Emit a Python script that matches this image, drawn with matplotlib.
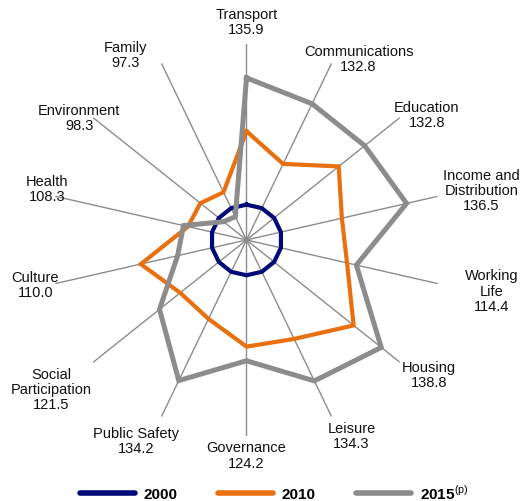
import numpy as np
import matplotlib
matplotlib.use("Agg")
import matplotlib.pyplot as plt
from matplotlib.lines import Line2D

plt.rcParams["font.family"] = ["Liberation Sans", "DejaVu Sans"]
plt.rcParams["mathtext.fontset"] = "custom"
plt.rcParams["mathtext.rm"] = "Liberation Sans"
plt.rcParams["mathtext.bf"] = "Liberation Sans:bold"

# categories clockwise from the top
categories = [
    "Transport", "Communications", "Education", "Income and\nDistribution",
    "Working\nLife", "Housing", "Leisure", "Governance", "Public Safety",
    "Social\nParticipation", "Culture", "Health", "Environment", "Family",
]
values_2000 = [100.0] * 14
values_2010 = [120.8, 113.9, 123.4, 117.7, 119.2, 128.8, 121.1,
               120.2, 114.8, 114.0, 120.7, 107.0, 106.7, 105.0]
# as drawn in the picture (Working Life is plotted higher than its label)
values_2015 = [135.9, 132.8, 132.8, 136.5, 121.9, 138.8, 134.3,
               124.2, 134.2, 121.5, 110.0, 108.3, 98.3, 97.3]
# values printed under the category names
label_values = [135.9, 132.8, 132.8, 136.5, 114.4, 138.8, 134.3,
                124.2, 134.2, 121.5, 110.0, 108.3, 98.3, 97.3]
series_names = ["2000", "2010", r"$\mathbf{2015}^{\mathrm{(p)}}$"]

# label offsets from spoke ends (pixels, y up)
label_dx = [0, 27, 27, 44, 54, 29, 20, 0, -25, -42, -20, -8, -14, -36]
label_dy = [22, 5, 3, 6, -7, -12, -19, -19, -24, -27, -1, 8, 0, 9]

colors = ["#000a78", "#e8700e", "#8c8c8c"]
widths = [3.0, 3.0, 3.6]

r_min, r_max = 90, 145.5
n = len(categories)
theta = np.arange(n) * 2 * np.pi / n

fig = plt.figure(figsize=(5.22, 5.02), dpi=100)
ax = fig.add_axes([0.0967, 0.1295, 0.751, 0.781], projection="polar")
ax.set_theta_zero_location("N")
ax.set_theta_direction(-1)
ax.set_ylim(r_min, r_max)
ax.grid(False)
ax.spines["polar"].set_visible(False)
ax.set_xticks([])
ax.set_yticks([])
ax.patch.set_alpha(0)

for t in theta:
    ax.plot([t, t], [r_min, r_max], color="#8c8c8c", lw=1.0, zorder=1)

closed = np.append(theta, theta[0])
for vals, c, w in zip([values_2000, values_2010, values_2015], colors, widths):
    ax.plot(closed, np.append(vals, vals[0]), color=c, lw=w,
            solid_joinstyle="miter", zorder=3)

for i, (t, name) in enumerate(zip(theta, categories)):
    ax.annotate(f"{name}\n{label_values[i]:.1f}", xy=(t, r_max),
                xytext=(label_dx[i], label_dy[i]), textcoords="offset pixels",
                ha="center", va="center", fontsize=10.5, linespacing=1.1,
                color="#111111", annotation_clip=False)

handles = [Line2D([], [], color=c, lw=4, solid_capstyle="round") for c in colors]
fig.legend(handles, series_names, loc="center", ncol=3,
           bbox_to_anchor=(0.525, 0.018), frameon=False, handlelength=3.6,
           handletextpad=0.6, columnspacing=2.6,
           prop={"weight": "bold", "size": 11})

fig.savefig("out.png", dpi=100)
